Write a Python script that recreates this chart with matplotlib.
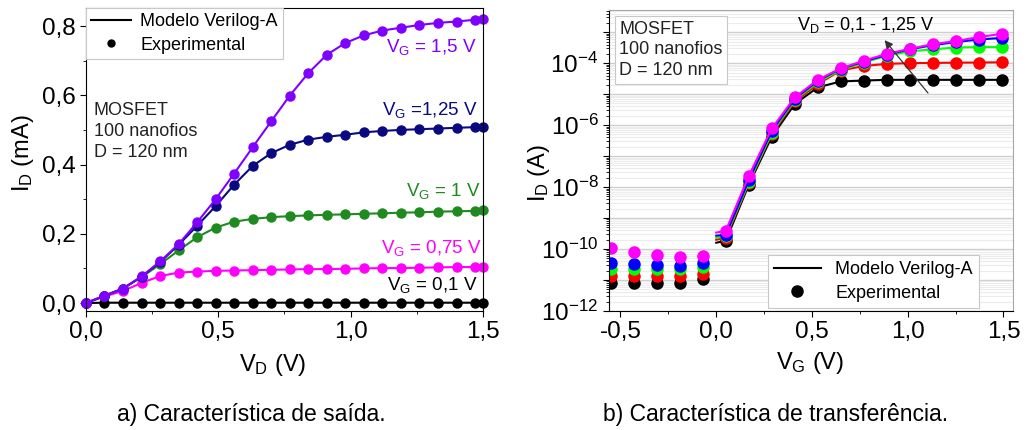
import matplotlib
matplotlib.use('Agg')
import matplotlib.pyplot as plt
from matplotlib.lines import Line2D
from matplotlib.ticker import FixedLocator, MultipleLocator, LogLocator, NullFormatter, FuncFormatter

plt.rcParams['font.family'] = ['Liberation Sans', 'DejaVu Sans']
plt.rcParams['mathtext.fontset'] = 'custom'
plt.rcParams['mathtext.rm'] = 'Liberation Sans'
plt.rcParams['mathtext.it'] = 'Liberation Sans:italic'
plt.rcParams['mathtext.bf'] = 'Liberation Sans:bold'

# ---- a) Caracteristica de saida (ID x VD) ----
vd = [0.0, 0.07, 0.14, 0.21, 0.28, 0.35, 0.42, 0.49, 0.56, 0.63, 0.70, 0.77,
      0.84, 0.91, 0.98, 1.05, 1.12, 1.19, 1.26, 1.33, 1.40, 1.47, 1.50]
id_vg150 = [0.0, 0.021, 0.042, 0.077, 0.120, 0.170, 0.233, 0.300, 0.374, 0.450, 0.525, 0.599,
            0.664, 0.717, 0.751, 0.773, 0.787, 0.795, 0.803, 0.809, 0.813, 0.818, 0.820]
id_vg125 = [0.0, 0.021, 0.042, 0.076, 0.118, 0.168, 0.223, 0.280, 0.342, 0.396, 0.433, 0.457,
            0.472, 0.480, 0.486, 0.493, 0.497, 0.500, 0.502, 0.504, 0.506, 0.508, 0.508]
id_vg100 = [0.0, 0.021, 0.042, 0.075, 0.112, 0.152, 0.190, 0.218, 0.235, 0.243, 0.248, 0.251,
            0.253, 0.255, 0.256, 0.258, 0.259, 0.261, 0.262, 0.264, 0.265, 0.266, 0.268]
id_vg075 = [0.0, 0.019, 0.035, 0.058, 0.078, 0.088, 0.091, 0.093, 0.094, 0.095, 0.096, 0.097,
            0.098, 0.098, 0.099, 0.100, 0.101, 0.101, 0.102, 0.103, 0.104, 0.104, 0.105]
id_vg010 = [0.0, 0.001, 0.001, 0.001, 0.001, 0.001, 0.001, 0.001, 0.001, 0.001, 0.001, 0.001,
            0.001, 0.001, 0.001, 0.001, 0.001, 0.001, 0.001, 0.001, 0.001, 0.001, 0.001]

# ---- b) Caracteristica de transferencia (ID x VG) ----
vg = [-0.55, -0.43, -0.31, -0.19, -0.07, 0.05, 0.17, 0.29, 0.41, 0.53, 0.65, 0.77,
      0.89, 1.01, 1.13, 1.25, 1.37, 1.49]
id_k = [8.3e-12, 8.3e-12, 8.3e-12, 8.3e-12, 1.07e-11, 1.86e-10, 1.2e-8, 4.2e-7, 4.8e-6, 1.66e-5,
        2.57e-5, 2.75e-5, 2.9e-5, 2.9e-5, 2.9e-5, 2.9e-5, 2.9e-5, 2.9e-5]
id_r = [1.38e-11, 1.38e-11, 1.38e-11, 1.38e-11, 1.62e-11, 2.3e-10, 1.35e-8, 5.1e-7, 5.8e-6, 2.1e-5,
        5.8e-5, 8.1e-5, 9.5e-5, 1.0e-4, 1.02e-4, 1.04e-4, 1.05e-4, 1.07e-4]
id_g = [2.24e-11, 2.24e-11, 2.24e-11, 2.24e-11, 2.57e-11, 2.6e-10, 1.45e-8, 5.6e-7, 6.5e-6, 2.4e-5,
        6.0e-5, 1.05e-4, 1.74e-4, 2.4e-4, 2.8e-4, 3.2e-4, 3.3e-4, 3.3e-4]
id_b = [3.5e-11, 3.2e-11, 3.1e-11, 2.9e-11, 3.5e-11, 2.9e-10, 1.66e-8, 6.5e-7, 7.1e-6, 2.7e-5,
        6.6e-5, 1.12e-4, 1.86e-4, 2.8e-4, 3.8e-4, 4.8e-4, 5.8e-4, 6.5e-4]
id_m = [1.12e-10, 8.3e-11, 6.6e-11, 5.6e-11, 6.0e-11, 3.9e-10, 2.3e-8, 7.8e-7, 7.9e-6, 2.9e-5,
        6.8e-5, 1.2e-4, 2.0e-4, 2.9e-4, 4.1e-4, 5.2e-4, 6.9e-4, 8.9e-4]
# modelo: comeca em VG = 0
vg_mod = [0.0] + vg[5:]
mod_k = [1.6e-10] + id_k[5:]
mod_r = [2.0e-10] + id_r[5:]
mod_g = [2.3e-10] + id_g[5:]
mod_b = [2.7e-10] + id_b[5:]
mod_m = [3.4e-10] + id_m[5:]

fig = plt.figure(figsize=(10.27, 4.3), dpi=100)
ax1 = fig.add_axes([0.0837, 0.2767, 0.3866, 0.7047])
ax2 = fig.add_axes([0.593, 0.2767, 0.3934, 0.700])

comma = FuncFormatter(lambda v, p: ('%.1f' % v).replace('.', ','))

# ---------- a ----------
cores1 = ['black', '#ff00ff', '#1f8a1f', '#0a0a80', '#8000ff']
series1 = [id_vg010, id_vg075, id_vg100, id_vg125, id_vg150]
for ys, c in zip(series1, cores1):
    ax1.plot(vd, ys, '-o', color=c, lw=1.5, ms=6.5, clip_on=False)

ax1.set_xlim(0, 1.5)
ax1.set_ylim(-0.023, 0.852)
ax1.xaxis.set_major_locator(FixedLocator([0, 0.5, 1.0, 1.5]))
ax1.xaxis.set_minor_locator(MultipleLocator(0.25))
ax1.yaxis.set_major_locator(FixedLocator([0, 0.2, 0.4, 0.6, 0.8]))
ax1.yaxis.set_minor_locator(MultipleLocator(0.1))
ax1.xaxis.set_major_formatter(comma)
ax1.yaxis.set_major_formatter(comma)
ax1.tick_params(which='both', direction='out', top=False, right=False, labelsize=17.5)
ax1.tick_params(which='major', length=4)
ax1.tick_params(which='minor', length=2.5)

ax1.set_xlabel(r'$\mathregular{V_D}$ (V)', fontsize=17)
ax1.set_ylabel(r'$\mathregular{I_D}$ (mA)', fontsize=17)
ax1.xaxis.set_label_coords(0.47, -0.135)
ax1.yaxis.set_label_coords(-0.125, 0.52)

lab_kw = dict(ha='right', va='center', fontsize=13.5)
ax1.text(1.475, 0.739, r'$\mathregular{V_G}$ = 1,5 V', color='#8000ff', **lab_kw)
ax1.text(1.48, 0.557, r'$\mathregular{V_G}$ =1,25 V', color='#0a0a80', **lab_kw)
ax1.text(1.49, 0.323, r'$\mathregular{V_G}$ = 1 V', color='#1f8a1f', **lab_kw)
ax1.text(1.495, 0.159, r'$\mathregular{V_G}$ = 0,75 V', color='#ff00ff', **lab_kw)
ax1.text(1.48, 0.052, r'$\mathregular{V_G}$ = 0,1 V', color='black', **lab_kw)

ax1.text(0.02, 0.69, 'MOSFET\n100 nanofios\nD = 120 nm', transform=ax1.transAxes,
         ha='left', va='top', fontsize=13, linespacing=1.3, color='#222222')

h1 = [Line2D([], [], color='black', lw=1.5),
      Line2D([], [], color='black', marker='o', ls='none', ms=5)]
leg1 = ax1.legend(h1, ['Modelo Verilog-A', 'Experimental'], loc='upper left',
                  bbox_to_anchor=(0, 1), borderaxespad=0, fontsize=13, fancybox=False,
                  handlelength=2.2, handletextpad=0.5, labelspacing=0.35, borderpad=0.3,
                  framealpha=1)
leg1.get_frame().set_edgecolor('#c8c8c8')
leg1.get_frame().set_linewidth(0.8)

# ---------- b ----------
cores2 = ['black', '#ff0000', '#00ff00', '#0000ff', '#ff00ff']
exp2 = [id_k, id_r, id_g, id_b, id_m]
mod2 = [mod_k, mod_r, mod_g, mod_b, mod_m]
for ye, ym, c in zip(exp2, mod2, cores2):
    ax2.plot(vg_mod, ym, '-', color=c, lw=1.5)
    ax2.plot(vg, ye, 'o', color=c, ms=8)

ax2.set_yscale('log')
ax2.set_xlim(-0.56, 1.55)
ax2.set_ylim(1e-12, 5.2e-3)
ax2.xaxis.set_major_locator(FixedLocator([-0.5, 0, 0.5, 1.0, 1.5]))
ax2.xaxis.set_minor_locator(MultipleLocator(0.25))
ax2.xaxis.set_major_formatter(comma)
ax2.yaxis.set_major_locator(LogLocator(base=10, numticks=20))
ax2.yaxis.set_minor_locator(LogLocator(base=10, subs=range(2, 10), numticks=20))
ax2.yaxis.set_minor_formatter(NullFormatter())


def logfmt(v, p):
    import math
    e = int(round(math.log10(v)))
    if e % 2:
        return ''
    return r'$\mathregular{10^{%d}}$' % e


ax2.yaxis.set_major_formatter(FuncFormatter(logfmt))
ax2.tick_params(which='both', direction='out', top=False, right=False, labelsize=17.5)
ax2.tick_params(which='major', length=4)
ax2.tick_params(which='minor', length=2)
ax2.grid(True, which='major', axis='y', color='#cfcfcf', lw=1.0)
ax2.grid(True, which='minor', axis='y', color='#ececec', lw=0.8)
ax2.set_axisbelow(True)
for s in ['top', 'right']:
    ax2.spines[s].set_color('#a8a8a8')

ax2.set_xlabel(r'$\mathregular{V_G}$ (V)', fontsize=17)
ax2.set_ylabel(r'$\mathregular{I_D}$ (A)', fontsize=17)
ax2.xaxis.set_label_coords(0.497, -0.13)
ax2.yaxis.set_label_coords(-0.14, 0.46)

ax2.annotate('', xy=(0.87, 6.5e-4), xytext=(1.115, 9.3e-6),
             arrowprops=dict(arrowstyle='-|>', color='#333333', lw=0.9, mutation_scale=12))
ax2.text(0.42, 1.7e-3, r'$\mathregular{V_D}$ = 0,1 - 1,25 V', ha='left', va='center', fontsize=13)

ax2.text(0.025, 0.965, 'MOSFET\n100 nanofios\nD = 120 nm', transform=ax2.transAxes,
         ha='left', va='top', fontsize=13, linespacing=1.3, color='#222222',
         bbox=dict(boxstyle='square,pad=0.25', fc='white', ec='#c8c8c8', lw=0.8))

h2 = [Line2D([], [], color='black', lw=1.5),
      Line2D([], [], color='black', marker='o', ls='none', ms=8)]
leg2 = ax2.legend(h2, ['Modelo Verilog-A', 'Experimental'], loc='lower right',
                  bbox_to_anchor=(0.916, 0.01), borderaxespad=0, fontsize=13, fancybox=False,
                  handlelength=2.6, labelspacing=0.35, borderpad=0.35, framealpha=1)
leg2.get_frame().set_edgecolor('#c8c8c8')
leg2.get_frame().set_linewidth(0.8)

fig.text(0.245, 0.035, 'a) Característica de saída.', ha='center', va='center', fontsize=16.5)
fig.text(0.755, 0.035, 'b) Característica de transferência.', ha='center', va='center', fontsize=16.5)

fig.savefig('out.png', dpi=100)
